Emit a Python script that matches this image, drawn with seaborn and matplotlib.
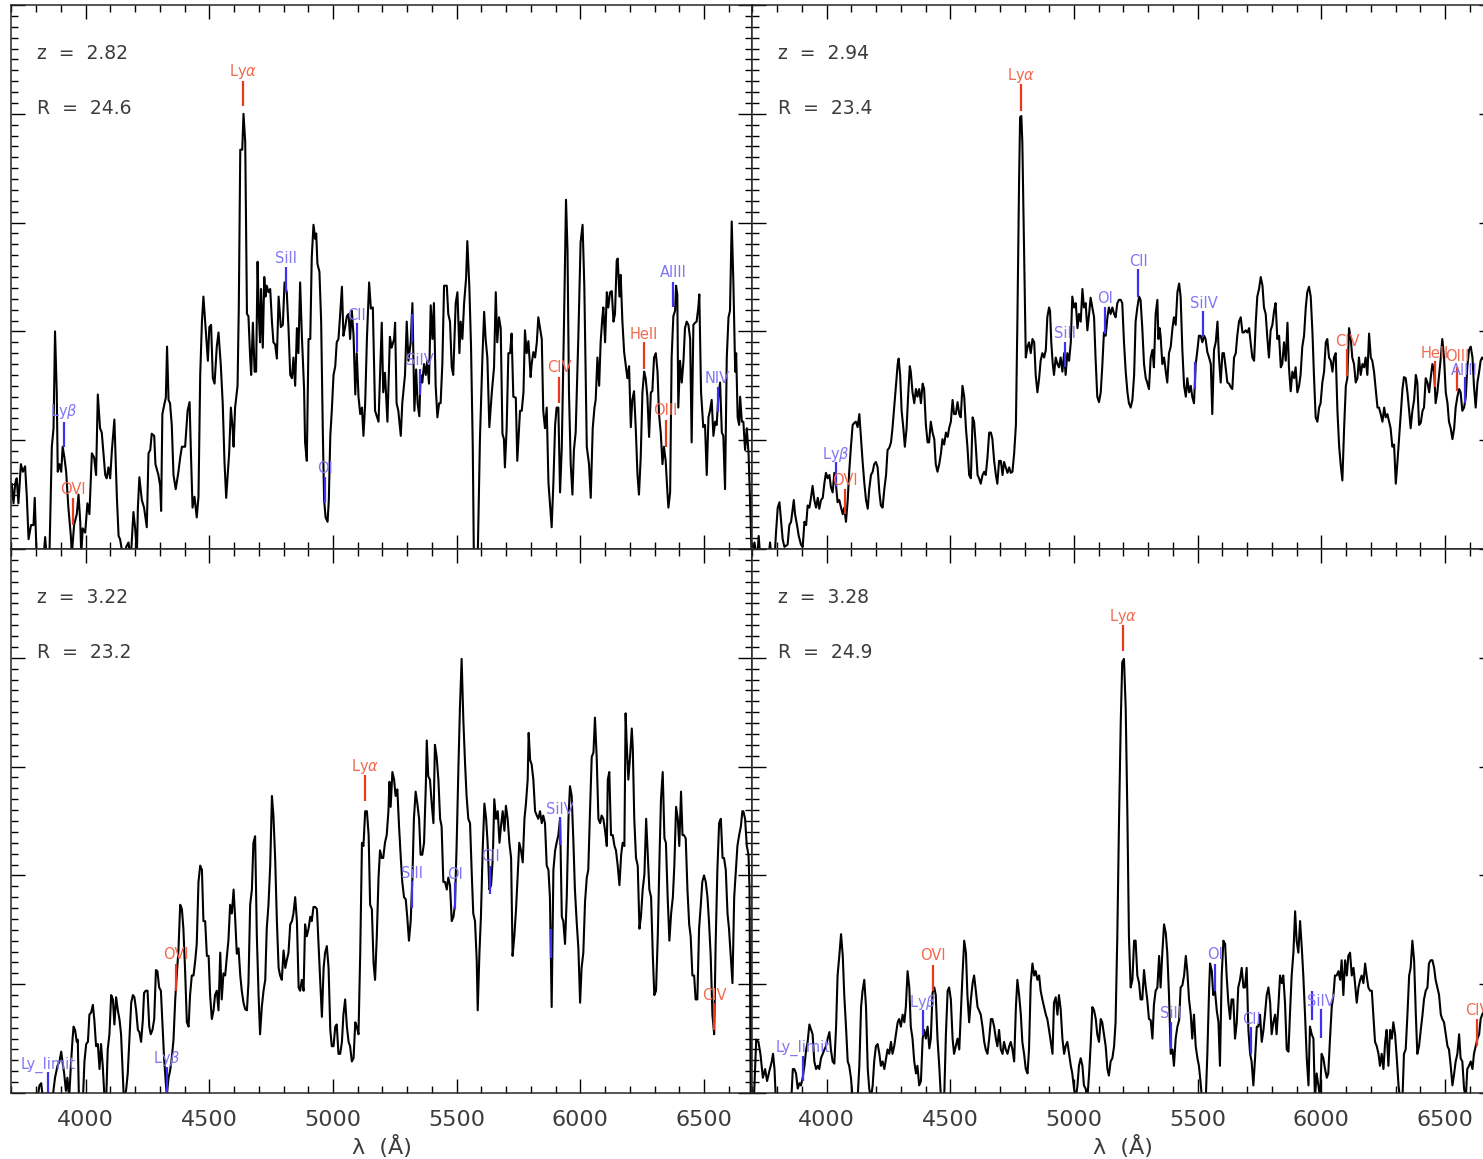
import seaborn as sns
import matplotlib.pyplot as plt
from matplotlib.ticker import MultipleLocator

# spectra: (wavelength [A], flux [arbitrary])
spec_a = [(3701,0.60),(3708,0.42),(3715,0.60),(3721,0.65),(3728,0.42),(3738,0.78),(3746,0.71),(3755,0.76),(3762,0.48),(3769,0.09),
(3779,0.22),(3789,0.22),(3794,0.47),(3802,-0.1),(3829,-0.1),(3836,0.11),(3843,-0.1),(3853,-0.1),(3863,0.94),(3870,1.11),(3876,2.00),
(3883,1.44),(3887,0.71),(3894,0.78),(3901,0.71),(3907,0.94),(3914,0.84),(3921,0.71),(3930,0.38),(3940,0.12),(3944,-0.05),(3953,0.22),
(3964,0.32),(3971,0.50),(3978,0.25),(3982,-0.05),(3988,0.19),(3998,0.15),(4007,0.42),(4015,0.32),(4025,0.88),(4034,0.84),(4042,0.68),
(4049,1.42),(4058,1.11),(4065,1.07),(4072,0.88),(4079,0.68),(4085,0.65),(4092,0.75),(4099,0.65),(4106,0.91),(4116,1.19),(4126,0.48),
(4133,0.12),(4139,0.09),(4153,-0.1),(4164,0.02),(4173,0.06),(4182,-0.1),(4193,0.34),(4200,0.19),(4207,-0.05),(4211,0.38),(4217,0.66),
(4227,0.45),(4236,0.38),(4247,0.20),(4254,0.88),(4261,0.91),(4267,1.06),(4277,1.04),(4282,0.78),(4294,0.68),(4301,0.58),(4305,0.35),
(4310,1.24),(4319,1.34),(4324,1.39),(4329,1.86),(4335,1.37),(4341,1.34),(4348,1.14),(4355,0.68),(4364,0.55),(4375,0.71),(4382,0.84),
(4389,0.94),(4402,0.94),(4412,1.27),(4420,1.35),(4426,0.84),(4432,0.38),(4440,0.48),(4449,0.29),(4456,0.48),(4463,1.60),(4470,2.09),
(4476,2.32),(4487,1.96),(4494,1.73),(4500,2.04),(4507,2.06),(4514,1.57),(4521,1.52),(4530,1.86),(4537,1.99),(4546,1.70),(4554,1.34),
(4561,0.81),(4568,0.47),(4575,0.71),(4580,0.88),(4587,1.30),(4594,1.11),(4598,0.94),(4604,1.30),(4614,1.50),(4619,2.22),(4625,3.67),
(4633,3.67),(4638,4.00),(4645,3.74),(4652,2.16),(4658,2.14),(4665,1.76),(4669,1.60),(4676,2.08),(4683,1.63),(4689,1.63),(4695,2.64),
(4700,2.16),(4705,1.90),(4709,2.39),(4716,1.85),(4722,2.50),(4727,2.32),(4732,2.42),(4739,2.36),(4746,2.39),(4753,2.09),(4759,1.90),
(4766,1.88),(4773,1.75),(4780,2.32),(4789,2.04),(4797,2.06),(4804,2.45),(4813,2.36),(4820,2.03),(4827,1.60),(4834,1.57),(4840,1.76),
(4847,1.50),(4854,2.03),(4860,1.80),(4867,2.45),(4874,1.96),(4883,1.47),(4887,0.98),(4894,0.81),(4901,1.93),(4908,1.93),(4914,2.68),
(4921,2.98),(4928,2.85),(4932,2.90),(4937,2.62),(4945,2.55),(4952,2.09),(4959,1.04),(4964,0.45),(4970,0.29),(4978,0.25),(4983,0.45),
(4989,1.04),(4995,1.27),(5002,1.60),(5009,1.68),(5015,1.90),(5022,1.93),(5029,2.16),(5036,2.41),(5042,1.96),(5049,2.04),(5056,2.14),
(5063,2.16),(5069,1.93),(5076,2.19),(5083,1.96),(5090,1.42),(5096,1.80),(5103,1.40),(5110,1.24),(5117,1.30),(5123,1.04),(5130,1.34),
(5137,1.93),(5146,2.45),(5153,2.21),(5161,2.22),(5170,1.27),(5184,1.17),(5197,2.08),(5203,1.44),(5210,1.62),(5220,1.17),(5230,1.95),
(5237,1.85),(5247,1.93),(5251,2.08),(5257,1.34),(5264,1.27),(5274,1.04),(5280,1.34),(5291,1.60),(5298,2.09),(5305,1.73),(5314,1.90),
(5321,2.26),(5329,1.27),(5336,1.65),(5342,1.34),(5349,1.22),(5354,1.60),(5361,1.53),(5368,1.70),(5375,1.60),(5381,1.73),(5388,1.52),
(5395,2.24),(5402,1.93),(5408,2.26),(5415,1.50),(5422,1.21),(5429,1.34),(5435,1.34),(5442,1.70),(5449,2.42),(5460,2.42),(5466,2.16),
(5473,2.09),(5480,1.67),(5486,1.60),(5496,2.26),(5503,2.36),(5511,1.80),(5516,2.09),(5523,1.93),(5530,2.26),(5538,2.49),(5543,2.83),
(5551,2.42),(5558,1.86),(5565,0.94),(5570,-0.2),(5584,-0.2),(5594,1.01),(5604,1.76),(5611,2.18),(5617,1.93),(5624,1.76),(5632,1.12),
(5642,1.44),(5651,1.67),(5658,2.36),(5664,1.90),(5671,2.13),(5678,2.03),(5685,1.06),(5691,1.01),(5695,0.75),(5702,1.11),(5709,1.80),
(5716,1.80),(5722,1.98),(5729,1.40),(5739,1.39),(5745,0.81),(5756,1.27),(5763,1.27),(5770,1.44),(5776,2.01),(5783,1.80),(5790,1.91),
(5794,1.76),(5799,1.58),(5803,1.70),(5810,1.81),(5817,1.76),(5824,1.90),(5830,2.13),(5837,2.03),(5844,1.93),(5850,1.27),(5857,1.11),
(5864,1.30),(5871,0.61),(5877,0.42),(5884,0.20),(5891,0.61),(5898,1.14),(5904,1.30),(5911,1.30),(5918,0.52),(5925,0.94),(5934,2.09),
(5942,3.21),(5948,2.75),(5954,1.44),(5961,0.78),(5968,0.50),(5974,0.91),(5981,1.07),(5992,1.96),(6001,2.82),(6009,2.98),(6016,2.42),
(6026,0.94),(6035,0.78),(6042,0.47),(6050,1.11),(6057,1.30),(6062,1.37),(6069,1.76),(6076,1.50),(6082,1.90),(6089,2.13),(6093,2.22),
(6100,1.90),(6107,2.36),(6113,2.22),(6120,2.36),(6127,2.37),(6134,2.09),(6140,2.16),(6147,2.65),(6151,2.67),(6158,2.32),(6163,2.52),
(6170,2.09),(6177,1.81),(6183,1.70),(6190,1.57),(6197,1.68),(6204,1.12),(6210,1.37),(6217,1.45),(6224,1.11),(6231,0.68),(6237,0.50),
(6244,0.84),(6251,1.44),(6258,1.63),(6264,1.57),(6271,1.40),(6278,1.03),(6285,1.44),(6291,1.45),(6298,1.76),(6305,1.80),(6312,1.63),
(6318,1.24),(6325,1.07),(6332,0.78),(6338,0.94),(6345,0.81),(6352,0.52),(6356,0.38),(6363,0.52),(6369,1.76),(6376,2.14),(6383,2.19),
(6387,2.42),(6392,2.34),(6396,1.30),(6403,1.73),(6410,1.53),(6417,1.73),(6423,2.03),(6430,2.09),(6437,2.06),(6444,1.93),(6450,0.98),
(6457,2.06),(6464,2.08),(6470,2.09),(6477,2.22),(6481,2.34),(6488,1.44),(6497,1.12),(6504,1.14),(6511,0.68),(6518,1.21),(6524,1.27),
(6531,1.37),(6538,1.04),(6545,1.17),(6551,1.14),(6558,1.40),(6565,1.53),(6572,1.07),(6578,1.04),(6585,0.55),(6592,1.76),(6599,2.13),
(6605,2.19),(6612,3.01),(6619,2.42),(6626,1.63),(6630,1.80),(6636,1.21),(6642,1.14),(6646,1.40),(6653,1.17),(6659,1.17),(6666,0.91),
(6673,1.11),(6680,0.88),(6686,0.45),(6693,-0.1)]

spec_b = [(3697,-0.1),(3708,0.06),(3719,-0.1),(3725,0.12),(3732,-0.1),(3764,-0.1),(3771,0.06),(3778,-0.1),(3789,-0.1),(3795,0.15),
(3802,0.38),(3809,0.43),(3816,0.25),(3822,0.09),(3829,0.02),(3842,0.04),(3849,0.22),(3856,0.25),(3867,0.45),(3872,0.32),(3880,0.22),
(3887,0.12),(3896,0.04),(3903,0.02),(3910,0.25),(3917,0.22),(3923,0.40),(3930,0.38),(3937,0.48),(3943,0.58),(3950,0.45),(3957,0.38),
(3964,0.47),(3970,0.37),(3977,0.45),(3984,0.47),(3991,0.61),(3997,0.70),(4004,0.65),(4011,0.68),(4017,0.57),(4024,0.52),(4031,0.70),
(4038,0.58),(4044,0.43),(4051,0.45),(4058,0.38),(4065,0.32),(4071,0.38),(4078,0.25),(4085,0.45),(4091,0.71),(4098,0.94),(4105,1.14),
(4112,1.16),(4118,1.17),(4125,1.12),(4132,1.24),(4139,1.01),(4145,0.81),(4152,0.61),(4159,0.45),(4166,0.37),(4172,0.55),(4179,0.68),
(4186,0.71),(4192,0.78),(4199,0.80),(4206,0.75),(4213,0.52),(4219,0.40),(4226,0.38),(4233,0.55),(4240,0.68),(4246,0.91),(4253,0.93),
(4260,0.98),(4266,1.11),(4273,1.30),(4280,1.50),(4287,1.70),(4291,1.75),(4297,1.60),(4303,1.27),(4310,1.11),(4316,0.94),(4323,1.11),
(4330,1.44),(4336,1.68),(4340,1.63),(4347,1.44),(4354,1.34),(4361,1.47),(4367,1.40),(4374,1.47),(4381,1.34),(4388,1.52),(4394,1.47),
(4401,1.14),(4408,0.98),(4414,0.98),(4421,1.17),(4428,1.07),(4435,1.01),(4441,0.78),(4448,0.71),(4455,0.78),(4462,0.88),(4468,1.01),
(4475,0.96),(4482,1.07),(4489,1.03),(4495,1.11),(4502,1.17),(4509,1.37),(4515,1.24),(4522,1.24),(4529,1.35),(4536,1.24),(4542,1.21),
(4549,1.50),(4556,1.40),(4563,1.11),(4569,0.94),(4576,0.68),(4583,0.65),(4590,1.21),(4596,1.17),(4603,0.94),(4610,0.68),(4616,0.65),
(4623,0.60),(4630,0.68),(4637,0.71),(4643,0.68),(4650,0.84),(4657,1.07),(4664,1.07),(4670,1.01),(4677,0.81),(4684,0.68),(4690,0.60),
(4697,0.81),(4704,0.81),(4711,0.68),(4717,0.80),(4724,0.75),(4731,0.70),(4738,0.75),(4744,0.70),(4751,0.71),(4758,0.88),(4765,1.14),
(4771,2.09),(4778,3.41),(4782,3.97),(4787,3.98),(4791,3.74),(4798,2.75),(4805,1.76),(4812,1.86),(4818,1.90),(4825,1.80),(4832,1.93),
(4839,1.90),(4845,1.60),(4852,1.44),(4859,1.57),(4865,1.73),(4872,1.80),(4879,1.76),(4886,1.83),(4892,2.13),(4899,2.22),(4903,2.19),
(4908,1.90),(4914,1.70),(4919,1.60),(4926,1.76),(4933,1.70),(4939,1.67),(4946,1.76),(4953,1.63),(4960,1.80),(4966,1.60),(4973,1.80),
(4980,1.73),(4987,1.90),(4993,2.32),(5000,2.22),(5007,2.26),(5014,2.03),(5020,2.16),(5027,2.09),(5034,2.39),(5040,2.22),(5047,2.26),
(5054,2.01),(5061,2.16),(5067,2.31),(5074,2.22),(5081,2.13),(5087,1.76),(5094,1.40),(5101,1.35),(5108,1.44),(5114,1.67),(5121,1.99),
(5128,1.96),(5135,2.13),(5141,2.22),(5148,2.16),(5155,2.22),(5162,2.16),(5168,2.13),(5175,2.26),(5182,2.29),(5189,2.29),(5195,2.26),
(5202,1.90),(5209,1.63),(5216,1.44),(5222,1.34),(5229,1.30),(5236,1.37),(5243,1.60),(5249,2.09),(5256,2.22),(5263,2.32),(5269,2.29),
(5276,2.03),(5283,1.70),(5290,1.57),(5296,1.53),(5303,1.47),(5310,1.76),(5317,1.83),(5323,1.67),(5330,2.16),(5337,2.29),(5341,1.93),
(5346,2.03),(5350,1.96),(5357,1.70),(5364,1.76),(5371,1.63),(5377,1.53),(5384,1.80),(5391,1.86),(5398,2.03),(5404,2.13),(5411,2.06),
(5418,2.36),(5425,2.44),(5431,2.32),(5438,1.83),(5445,1.50),(5452,1.40),(5458,1.57),(5465,1.44),(5472,1.50),(5478,1.40),(5485,1.34),
(5492,1.70),(5499,1.83),(5505,1.96),(5512,1.96),(5519,1.90),(5526,1.96),(5532,1.93),(5539,1.81),(5546,1.76),(5553,1.70),(5559,1.24),
(5566,1.83),(5573,1.90),(5580,2.09),(5586,1.76),(5593,1.53),(5600,1.80),(5606,1.80),(5613,1.67),(5620,1.53),(5627,1.52),(5633,1.49),
(5640,1.47),(5647,1.76),(5654,1.80),(5660,1.96),(5667,2.09),(5674,2.13),(5681,1.99),(5687,1.99),(5694,2.01),(5701,1.99),(5708,2.03),
(5714,1.90),(5721,1.76),(5728,1.73),(5735,2.09),(5741,2.32),(5748,2.39),(5755,2.50),(5762,2.42),(5768,2.22),(5775,2.16),(5782,1.93),
(5788,1.76),(5795,2.01),(5802,2.06),(5809,2.19),(5815,2.26),(5822,1.93),(5829,1.96),(5836,1.67),(5842,1.70),(5849,1.90),(5856,1.73),
(5863,2.08),(5869,1.67),(5876,1.45),(5883,1.63),(5890,1.57),(5896,1.67),(5903,1.44),(5910,1.50),(5916,1.60),(5923,1.86),(5930,1.96),
(5937,2.22),(5943,2.36),(5950,2.41),(5957,2.32),(5964,1.99),(5970,1.60),(5977,1.21),(5984,1.17),(5991,1.30),(5997,1.34),(6004,1.53),
(6011,1.63),(6018,1.90),(6024,1.93),(6031,1.76),(6038,1.73),(6045,1.63),(6051,1.76),(6058,1.80),(6065,1.27),(6072,0.94),(6078,0.78),
(6085,0.63),(6092,1.11),(6099,1.50),(6105,1.57),(6112,2.03),(6119,1.93),(6125,1.76),(6132,1.70),(6139,1.53),(6146,1.57),(6152,1.76),
(6159,1.60),(6166,1.70),(6173,1.67),(6179,1.76),(6186,1.60),(6193,1.98),(6200,1.76),(6206,1.73),(6213,1.63),(6220,1.47),(6227,1.30),
(6233,1.30),(6240,1.24),(6247,1.17),(6254,1.30),(6260,1.21),(6267,1.24),(6274,1.17),(6280,1.11),(6287,0.94),(6294,0.96),(6301,0.60),
(6307,0.78),(6314,1.01),(6321,1.24),(6328,1.47),(6334,1.58),(6341,1.57),(6348,1.44),(6355,1.27),(6361,1.11),(6368,1.27),(6375,1.37),
(6382,1.60),(6388,1.53),(6395,1.14),(6402,1.16),(6409,1.27),(6415,1.30),(6422,1.57),(6429,1.53),(6436,1.44),(6442,1.57),(6449,1.70),
(6456,1.63),(6462,1.34),(6469,1.44),(6476,1.60),(6483,1.76),(6489,1.93),(6496,1.76),(6503,1.44),(6510,1.34),(6516,1.17),(6523,1.11),
(6530,1.01),(6537,1.11),(6543,1.30),(6550,1.40),(6557,1.47),(6563,1.44),(6570,1.27),(6577,1.30),(6584,1.40),(6590,1.67),(6597,1.83),
(6604,1.86),(6611,1.76),(6617,1.50),(6624,1.30),(6631,1.53),(6638,1.63),(6644,1.73),(6650,1.76),(6670,1.70),(6695,1.60)]

spec_c = [(3701,-0.1),(3802,-0.1),(3813,0.07),(3820,0.09),(3827,-0.05),(3863,-0.1),(3876,0.14),(3886,0.25),(3894,0.29),(3901,0.38),
(3906,0.29),(3913,0.18),(3920,0.02),(3926,0.14),(3933,-0.05),(3940,0.25),(3947,0.50),(3951,0.61),(3957,0.58),(3964,0.47),(3968,0.49),
(3973,-0.1),(3988,-0.1),(3995,0.29),(4002,0.45),(4009,0.47),(4015,0.72),(4022,0.74),(4029,0.81),(4035,0.67),(4042,0.43),(4049,0.45),
(4056,0.22),(4062,0.45),(4069,0.25),(4076,-0.05),(4083,-0.05),(4089,0.40),(4096,0.54),(4103,0.90),(4110,0.86),(4116,0.63),(4123,0.88),
(4130,0.76),(4137,0.67),(4143,0.54),(4150,0.18),(4155,-0.1),(4164,0.04),(4170,0.18),(4177,0.50),(4184,0.83),(4191,0.90),(4197,0.88),
(4204,0.76),(4211,0.58),(4217,0.56),(4224,0.47),(4231,0.67),(4236,0.92),(4243,0.94),(4250,0.94),(4257,0.61),(4263,0.54),(4270,0.58),
(4277,0.68),(4284,1.13),(4290,1.12),(4297,0.97),(4304,0.94),(4310,0.65),(4317,0.32),(4324,0.09),(4328,-0.02),(4335,0.14),(4341,0.20),
(4348,0.32),(4355,0.49),(4362,0.86),(4368,1.08),(4375,1.31),(4382,1.73),(4389,1.69),(4395,1.51),(4402,1.12),(4409,0.65),(4416,0.61),
(4422,0.90),(4429,1.08),(4436,1.08),(4443,1.22),(4449,1.37),(4456,1.94),(4463,2.09),(4470,2.05),(4476,1.58),(4483,1.58),(4490,1.26),
(4497,1.26),(4503,0.90),(4510,0.68),(4517,0.76),(4523,0.90),(4530,0.94),(4537,0.76),(4544,1.29),(4550,0.86),(4557,1.10),(4564,1.08),
(4571,1.26),(4577,1.40),(4584,1.73),(4591,1.65),(4598,1.87),(4604,1.62),(4611,1.28),(4618,1.33),(4625,1.08),(4631,0.94),(4638,0.83),
(4645,0.77),(4652,0.76),(4658,1.01),(4665,1.73),(4672,1.87),(4678,2.30),(4685,2.36),(4692,1.44),(4699,0.90),(4705,0.54),(4712,0.79),
(4719,0.94),(4726,1.04),(4732,1.51),(4739,1.73),(4746,2.09),(4753,2.73),(4759,2.55),(4766,2.16),(4773,1.58),(4780,1.15),(4786,1.08),
(4793,1.04),(4800,1.31),(4807,1.15),(4813,1.22),(4820,1.29),(4827,1.55),(4834,1.58),(4840,1.65),(4847,1.80),(4854,1.58),(4861,0.97),
(4867,0.94),(4874,1.04),(4881,0.94),(4887,1.55),(4894,1.44),(4901,1.51),(4908,1.62),(4914,1.58),(4921,1.71),(4928,1.71),(4935,1.69),
(4941,1.40),(4948,1.04),(4955,0.70),(4962,1.15),(4968,1.29),(4975,1.35),(4982,1.15),(4989,0.58),(4995,0.43),(5002,0.43),(5009,0.61),
(5015,0.63),(5022,0.36),(5029,0.36),(5036,0.47),(5042,0.72),(5049,0.86),(5056,0.61),(5063,0.47),(5069,0.43),(5076,0.29),(5083,0.32),
(5090,0.65),(5096,0.61),(5103,0.54),(5110,1.29),(5117,2.30),(5123,2.27),(5130,2.59),(5137,2.59),(5144,2.37),(5150,1.73),(5157,1.69),
(5164,1.19),(5170,1.04),(5177,1.44),(5184,1.98),(5190,2.23),(5197,2.16),(5203,2.16),(5210,2.30),(5217,2.37),(5224,2.59),(5228,2.86),
(5233,2.63),(5240,2.95),(5247,2.88),(5253,2.73),(5260,2.79),(5267,2.45),(5274,2.16),(5280,1.94),(5287,1.80),(5294,1.78),(5300,1.62),
(5307,1.40),(5314,1.58),(5321,1.98),(5327,2.52),(5334,2.77),(5341,2.66),(5348,2.52),(5354,2.19),(5361,2.19),(5368,2.30),(5375,2.81),
(5379,3.24),(5385,2.91),(5392,2.88),(5399,2.66),(5406,2.48),(5412,3.20),(5419,3.09),(5426,2.88),(5433,2.52),(5439,2.45),(5446,1.94),
(5453,1.94),(5460,1.87),(5466,1.98),(5473,1.91),(5480,1.58),(5487,1.62),(5493,1.73),(5500,2.30),(5507,2.99),(5513,3.53),(5520,3.99),
(5527,3.42),(5534,3.02),(5540,2.73),(5547,2.52),(5554,2.48),(5561,2.01),(5567,1.65),(5574,1.58),(5581,1.22),(5585,0.76),(5592,1.29),
(5598,1.62),(5605,2.23),(5612,2.66),(5619,2.52),(5625,2.30),(5632,1.87),(5639,1.91),(5646,2.16),(5652,2.70),(5659,2.52),(5666,2.59),
(5673,2.30),(5679,2.45),(5686,2.59),(5693,2.41),(5699,2.64),(5706,2.52),(5713,2.30),(5720,2.16),(5726,1.26),(5733,1.44),(5740,1.69),
(5747,2.01),(5753,2.30),(5760,2.23),(5767,2.12),(5774,2.52),(5780,2.66),(5787,2.88),(5791,3.31),(5797,3.06),(5803,3.02),(5810,2.88),
(5817,2.59),(5824,2.55),(5830,2.52),(5837,2.59),(5844,2.48),(5850,2.55),(5857,2.48),(5864,2.09),(5871,2.05),(5877,1.80),(5884,0.79),
(5891,2.05),(5898,2.23),(5904,2.30),(5911,2.37),(5918,2.52),(5925,1.62),(5931,1.58),(5938,1.37),(5945,1.80),(5952,2.52),(5958,2.82),
(5965,2.73),(5972,2.30),(5978,1.87),(5985,1.58),(5992,1.33),(5999,0.83),(6005,1.15),(6012,1.29),(6019,1.76),(6026,1.98),(6032,2.05),
(6039,2.59),(6046,3.09),(6053,3.13),(6059,3.45),(6066,3.09),(6073,2.52),(6080,2.48),(6086,2.55),(6093,2.52),(6100,2.41),(6107,2.27),
(6111,2.88),(6117,2.95),(6124,2.37),(6131,2.37),(6138,2.27),(6144,2.23),(6151,2.09),(6158,1.91),(6165,2.19),(6171,2.30),(6178,2.27),
(6183,3.49),(6187,3.24),(6194,2.88),(6201,3.09),(6208,3.35),(6212,3.17),(6218,2.52),(6225,2.16),(6232,2.09),(6239,1.51),(6245,1.62),
(6252,1.87),(6259,2.01),(6266,2.52),(6272,2.23),(6279,1.87),(6286,1.80),(6293,1.26),(6299,0.90),(6306,0.94),(6313,1.44),(6320,2.16),
(6326,2.70),(6333,2.95),(6340,2.34),(6346,2.30),(6353,1.80),(6360,1.40),(6367,1.65),(6374,1.80),(6380,2.09),(6387,2.63),(6394,2.52),
(6400,2.27),(6407,2.77),(6413,2.37),(6419,2.37),(6426,2.34),(6433,1.87),(6440,1.55),(6446,1.44),(6453,1.08),(6460,1.08),(6466,0.86),
(6473,0.86),(6480,1.51),(6487,1.73),(6493,1.94),(6500,2.00),(6507,1.94),(6514,1.80),(6520,1.58),(6527,1.26),(6534,0.72),(6541,0.54),
(6547,1.37),(6554,2.05),(6561,2.48),(6568,2.52),(6575,2.16),(6581,2.16),(6588,2.05),(6595,1.65),(6601,1.51),(6608,1.26),(6615,1.01),
(6622,1.80),(6628,2.01),(6635,2.27),(6642,2.37),(6649,2.45),(6655,2.59),(6659,2.59),(6666,2.52),(6673,2.27),(6680,2.19),(6684,1.87),
(6689,-0.1)]

spec_d = [(3697,-0.1),(3705,-0.1),(3715,0.49),(3724,0.47),(3732,0.36),(3742,0.14),(3751,0.22),(3759,0.11),(3768,0.20),(3778,0.29),
(3783,0.36),(3789,0.22),(3795,-0.1),(3856,-0.1),(3863,0.22),(3869,0.22),(3876,0.18),(3883,0.04),(3890,0.09),(3896,0.07),(3903,0.14),
(3910,0.25),(3917,0.40),(3923,0.47),(3930,0.63),(3937,0.58),(3943,0.54),(3950,0.29),(3957,0.22),(3964,0.25),(3970,0.22),(3977,0.32),
(3984,0.36),(3991,0.40),(3997,0.43),(4004,0.50),(4011,0.56),(4017,0.40),(4024,0.29),(4031,0.27),(4038,0.61),(4044,1.08),(4051,1.26),
(4058,1.46),(4065,1.26),(4071,0.90),(4078,0.61),(4085,0.29),(4091,0.25),(4098,0.14),(4105,-0.05),(4125,-0.05),(4132,0.25),(4139,0.79),
(4145,0.94),(4152,1.04),(4159,0.79),(4166,0.22),(4172,0.04),(4179,-0.05),(4186,0.07),(4192,0.29),(4199,0.43),(4206,0.45),(4213,0.36),
(4219,0.25),(4226,0.29),(4233,0.22),(4240,0.32),(4246,0.40),(4253,0.36),(4260,0.47),(4266,0.36),(4273,0.43),(4280,0.54),(4287,0.65),
(4293,0.68),(4300,0.61),(4307,0.72),(4314,0.65),(4320,0.79),(4327,1.12),(4334,0.97),(4340,0.61),(4347,0.50),(4354,0.29),(4361,0.18),
(4367,0.25),(4374,0.07),(4381,0.11),(4388,0.50),(4394,0.58),(4401,0.50),(4408,0.61),(4415,0.41),(4421,0.50),(4428,0.92),(4435,0.97),
(4441,0.90),(4448,0.50),(4455,0.25),(4462,-0.05),(4475,-0.05),(4482,0.54),(4489,0.94),(4495,0.97),(4502,0.86),(4509,0.50),(4515,0.36),
(4522,0.43),(4529,0.50),(4536,0.40),(4542,0.72),(4549,1.08),(4556,1.40),(4563,1.29),(4569,0.90),(4576,0.65),(4583,0.86),(4590,1.01),
(4596,1.08),(4603,0.94),(4610,0.79),(4616,0.76),(4623,0.72),(4630,0.61),(4637,0.47),(4643,0.40),(4650,0.36),(4657,0.50),(4664,0.68),
(4670,0.68),(4677,0.61),(4684,0.50),(4690,0.43),(4697,0.58),(4704,0.40),(4711,0.36),(4717,0.47),(4724,0.40),(4731,0.36),(4738,0.43),
(4744,0.47),(4751,0.40),(4758,0.29),(4765,0.79),(4771,1.04),(4778,0.90),(4785,0.72),(4791,0.47),(4798,0.36),(4805,0.22),(4812,0.18),
(4818,0.40),(4825,1.01),(4832,1.19),(4839,1.08),(4845,1.12),(4852,1.04),(4859,1.08),(4865,0.94),(4872,0.86),(4879,0.79),(4886,0.72),
(4892,0.68),(4899,0.58),(4906,0.47),(4913,0.36),(4919,0.83),(4926,0.88),(4933,0.72),(4939,0.90),(4946,0.77),(4953,0.50),(4960,0.36),
(4966,0.43),(4973,0.47),(4980,0.36),(4987,0.25),(4993,0.18),(5000,0.04),(5007,-0.05),(5014,0.07),(5020,0.25),(5027,0.32),(5034,0.25),
(5040,0.07),(5047,0.04),(5054,-0.05),(5061,0.18),(5067,0.43),(5074,0.79),(5081,0.76),(5088,0.68),(5094,0.54),(5101,0.47),(5108,0.68),
(5114,0.65),(5121,0.54),(5128,0.43),(5135,0.22),(5141,0.16),(5148,0.29),(5155,0.32),(5162,0.43),(5168,0.65),(5175,1.44),(5182,2.52),
(5189,3.42),(5195,3.96),(5202,3.99),(5209,3.53),(5216,2.52),(5222,1.44),(5229,0.97),(5236,1.04),(5243,1.40),(5249,1.40),(5256,1.08),
(5263,1.01),(5269,0.86),(5276,0.86),(5283,1.13),(5290,0.97),(5296,0.86),(5303,0.68),(5310,0.67),(5317,0.50),(5323,0.81),(5330,0.94),
(5337,0.97),(5344,1.26),(5350,0.97),(5357,1.29),(5364,1.55),(5371,1.47),(5377,1.29),(5384,0.90),(5391,0.36),(5398,0.40),(5404,0.25),
(5411,0.50),(5418,0.61),(5425,0.67),(5431,0.97),(5438,0.99),(5445,1.08),(5452,1.26),(5458,1.12),(5465,0.86),(5472,0.72),(5478,0.50),
(5485,0.72),(5492,0.43),(5499,0.32),(5505,0.25),(5512,0.09),(5519,-0.1),(5532,-0.1),(5539,0.36),(5546,0.94),(5550,1.19),(5557,1.12),
(5563,0.90),(5570,0.94),(5577,0.76),(5584,0.65),(5590,0.25),(5597,1.08),(5604,1.40),(5611,1.37),(5617,1.08),(5624,0.83),(5631,0.68),
(5637,0.86),(5644,0.86),(5651,0.50),(5658,0.65),(5664,0.97),(5671,1.04),(5678,1.15),(5685,0.97),(5691,0.97),(5698,1.15),(5705,0.58),
(5712,0.36),(5718,0.29),(5725,0.07),(5732,0.32),(5739,0.61),(5745,0.61),(5752,0.72),(5759,0.47),(5766,0.58),(5772,0.72),(5779,0.90),
(5786,0.97),(5793,0.83),(5799,0.54),(5806,0.65),(5813,0.72),(5819,0.54),(5826,0.79),(5833,1.08),(5840,1.01),(5846,1.08),(5853,0.83),
(5860,0.40),(5867,0.38),(5873,0.72),(5880,1.08),(5887,1.29),(5894,1.67),(5900,1.40),(5907,1.29),(5914,1.58),(5921,1.33),(5927,1.08),
(5934,0.72),(5941,0.32),(5948,0.07),(5954,0.61),(5961,0.54),(5968,0.50),(5974,-0.05),(5981,0.18),(5988,0.07),(5995,-0.05),(6001,0.36),
(6008,0.32),(6015,0.22),(6022,0.14),(6028,0.18),(6035,0.50),(6042,0.79),(6049,0.90),(6055,1.08),(6062,1.08),(6069,1.12),(6076,1.04),
(6082,1.22),(6089,0.90),(6096,1.22),(6103,1.08),(6109,1.26),(6116,1.29),(6123,1.08),(6130,1.15),(6136,1.01),(6143,0.83),(6150,0.97),
(6157,1.04),(6163,1.08),(6170,1.01),(6177,1.19),(6183,1.08),(6190,0.97),(6197,0.94),(6204,0.94),(6210,0.72),(6217,0.47),(6224,0.43),
(6231,0.36),(6237,0.25),(6244,0.36),(6251,0.22),(6258,0.47),(6264,0.58),(6271,0.25),(6278,0.58),(6285,0.50),(6291,0.65),(6298,0.54),
(6305,0.32),(6312,0.07),(6318,-0.05),(6328,-0.05),(6334,0.36),(6341,0.40),(6348,0.72),(6355,1.08),(6361,1.15),(6368,1.40),(6375,1.22),
(6382,0.72),(6388,0.36),(6395,0.43),(6402,0.58),(6409,0.72),(6415,0.86),(6422,0.94),(6429,0.97),(6435,1.19),(6442,1.22),(6449,1.22),
(6456,1.15),(6462,1.04),(6469,0.97),(6476,0.90),(6483,0.72),(6489,0.68),(6496,0.65),(6503,0.54),(6510,0.43),(6516,0.40),(6523,0.25),
(6530,0.07),(6537,0.18),(6543,0.29),(6550,0.36),(6557,0.54),(6563,0.32),(6570,0.29),(6577,0.04),(6584,-0.05),(6590,0.22),(6597,0.25),
(6604,0.29),(6611,0.22),(6617,0.36),(6624,0.43),(6631,0.50),(6638,0.54),(6644,0.68),(6650,0.72),(6670,0.80),(6695,0.80)]

redshifts = ['2.82', '2.94', '3.22', '3.28']
magnitudes = ['24.6', '23.4', '23.2', '24.9']

# line markers: (label, wavelength, bottom, top, label height, kind)
lines_a = [('Ly$\\beta$', 3913, 0.94, 1.17, 1.26, 'abs'), ('OVI', 3948, 0.22, 0.47, 0.55, 'em'),
           ('Ly$\\alpha$', 4638, 4.07, 4.30, 4.39, 'em'), ('SiII', 4809, 2.36, 2.59, 2.67, 'abs'),
           ('OI', 4968, 0.42, 0.66, 0.74, 'abs'), ('CII', 5096, 1.81, 2.08, 2.15, 'abs'),
           ('', 5318, 1.90, 2.16, 2.2, 'abs'), ('SiIV', 5352, 1.42, 1.65, 1.73, 'abs'),
           ('CIV', 5914, 1.34, 1.58, 1.67, 'em'), ('HeII', 6258, 1.65, 1.90, 1.97, 'em'),
           ('OIII', 6345, 0.94, 1.19, 1.27, 'em'), ('AlIII', 6376, 2.22, 2.45, 2.54, 'abs'),
           ('NIV', 6555, 1.26, 1.49, 1.57, 'abs')]
lines_b = [('Ly$\\beta$', 4038, 0.57, 0.80, 0.87, 'abs'), ('OVI', 4075, 0.32, 0.55, 0.63, 'em'),
           ('Ly$\\alpha$', 4786, 4.03, 4.27, 4.35, 'em'), ('SiII', 4962, 1.67, 1.90, 1.98, 'abs'),
           ('OI', 5125, 1.98, 2.22, 2.30, 'abs'), ('CII', 5260, 2.32, 2.57, 2.64, 'abs'),
           ('', 5489, 1.47, 1.72, 1.8, 'abs'), ('SiIV', 5523, 1.95, 2.19, 2.26, 'abs'),
           ('CIV', 6104, 1.59, 1.84, 1.91, 'em'), ('HeII', 6458, 1.49, 1.73, 1.80, 'em'),
           ('OIII', 6550, 1.45, 1.67, 1.77, 'em'), ('AlIII', 6580, 1.34, 1.58, 1.64, 'abs')]
lines_c = [('Ly_limit', 3847, 0.0, 0.19, 0.26, 'abs'), ('Ly$\\beta$', 4328, 0.0, 0.24, 0.32, 'abs'),
           ('OVI', 4366, 0.94, 1.19, 1.27, 'em'), ('Ly$\\alpha$', 5130, 2.68, 2.92, 3.0, 'em'),
           ('SiII', 5318, 1.70, 1.95, 2.02, 'abs'), ('OI', 5493, 1.69, 1.94, 2.01, 'abs'),
           ('CII', 5635, 1.83, 2.09, 2.17, 'abs'), ('', 5880, 1.24, 1.51, 1.55, 'abs'),
           ('SiIV', 5918, 2.28, 2.54, 2.61, 'abs'), ('CIV', 6541, 0.58, 0.83, 0.90, 'em')]
lines_d = [('Ly_limit', 3903, 0.11, 0.34, 0.41, 'abs'), ('Ly$\\beta$', 4390, 0.53, 0.76, 0.83, 'abs'),
           ('OVI', 4428, 0.94, 1.18, 1.26, 'em'), ('Ly$\\alpha$', 5198, 4.06, 4.30, 4.38, 'em'),
           ('SiII', 5391, 0.40, 0.65, 0.73, 'abs'), ('OI', 5570, 0.94, 1.19, 1.27, 'abs'),
           ('CII', 5717, 0.36, 0.61, 0.68, 'abs'), ('', 5961, 0.67, 0.94, 0.98, 'abs'),
           ('SiIV', 6000, 0.51, 0.77, 0.84, 'abs'), ('CIV', 6630, 0.43, 0.68, 0.76, 'em')]

spectra = [spec_a, spec_b, spec_c, spec_d]
markers = [lines_a, lines_b, lines_c, lines_d]

sns.set_style('ticks')
plt.rcParams['font.family'] = ['DejaVu Sans']
plt.rcParams['mathtext.fontset'] = 'dejavusans'

line_col = {'em': '#e8391f', 'abs': '#3f30f0'}
text_col = {'em': '#f26a4f', 'abs': '#8276f5'}
grey = '#3c3c3c'

fig = plt.figure(figsize=(14.83, 11.59), dpi=100)
W, H = 1483.0, 1159.0
boxes = [(11, 5), (752, 5), (11, 549), (752, 549)]

for i in range(4):
    x0, y0 = boxes[i]
    ax = fig.add_axes([x0 / W, 1 - (y0 + 544) / H, 741 / W, 544 / H])
    wl = [p[0] for p in spectra[i]]
    fl = [p[1] for p in spectra[i]]
    sns.lineplot(x=wl, y=fl, ax=ax, color='black', lw=1.5, estimator=None, sort=False)
    for lab, w, yb, yt, yl, kind in markers[i]:
        ax.vlines(w, yb, yt, color=line_col[kind], lw=1.6)
        if lab:
            ax.text(w, yl, lab, ha='center', va='center', fontsize=10.5, color=text_col[kind])
    ax.set_xlim(3698, 6694)
    ax.set_ylim(0, 5)
    ax.xaxis.set_major_locator(MultipleLocator(500))
    ax.xaxis.set_minor_locator(MultipleLocator(100))
    ax.yaxis.set_major_locator(MultipleLocator(1))
    ax.yaxis.set_minor_locator(MultipleLocator(0.1))
    ax.tick_params(which='both', direction='in', top=True, right=True, labelleft=False,
                   color='black', width=1)
    ax.tick_params(which='major', length=10)
    ax.tick_params(which='minor', length=5)
    ax.tick_params(axis='x', labelsize=16, labelcolor=grey, pad=12)
    for s in ax.spines.values():
        s.set_linewidth(1.1)
    if i < 2:
        ax.tick_params(labelbottom=False)
    else:
        ax.set_xlabel('λ  (Å)', fontsize=16, color=grey, labelpad=4)
    ax.set_ylabel('')
    ax.text(0.035, 0.91, 'z  =  ' + redshifts[i], transform=ax.transAxes, fontsize=13.5,
            color=grey, va='center')
    ax.text(0.035, 0.81, 'R  =  ' + magnitudes[i], transform=ax.transAxes, fontsize=13.5,
            color=grey, va='center')

fig.savefig('out.png', dpi=100)
